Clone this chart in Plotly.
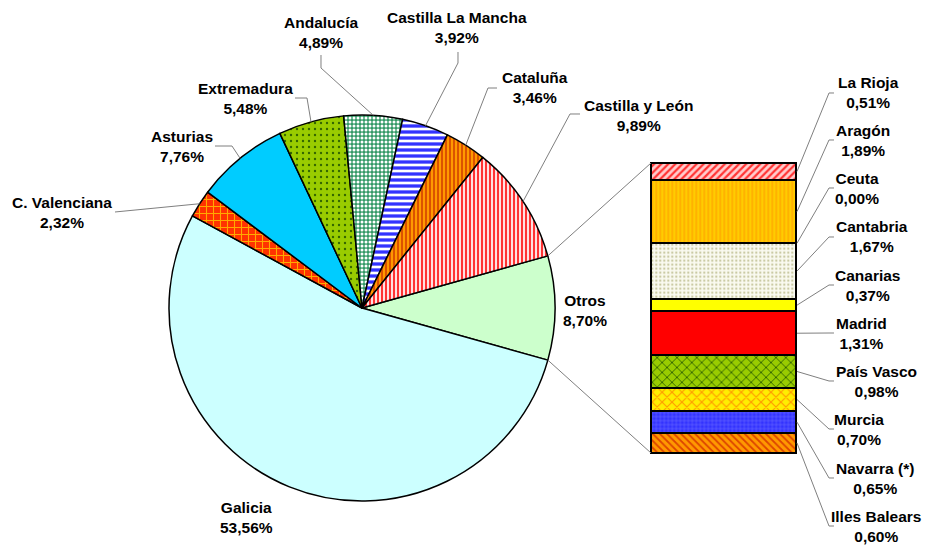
import math
import plotly.graph_objects as go

# ---- data -------------------------------------------------------------
# Main pie, listed clockwise starting with the "Otros" slice
pie_labels = ["Otros", "Galicia", "C. Valenciana", "Asturias", "Extremadura",
              "Andalucía", "Castilla La Mancha", "Cataluña", "Castilla y León"]
pie_values = [8.70, 53.56, 2.32, 7.76, 5.48, 4.89, 3.92, 3.46, 9.89]

# Breakdown of "Otros", listed top to bottom of the stacked bar
bar_labels = ["La Rioja", "Aragón", "Ceuta", "Cantabria", "Canarias", "Madrid",
              "País Vasco", "Murcia", "Navarra (*)", "Illes Balears"]
bar_values = [0.51, 1.89, 0.00, 1.67, 0.37, 1.31, 0.98, 0.70, 0.65, 0.60]

# ---- canvas -----------------------------------------------------------
W, H = 930, 545


def px(x):
    return x / W


def py(y):
    return 1 - y / H


FONT = dict(family="Liberation Sans, Arial, sans-serif", size=15.5,
            color="#000000", weight="bold")
LEADER = dict(color="#7F7F7F", width=1)

# ---- fills: (background, foreground, pattern shape, size, solidity) ---
pie_fill = {
    "Otros": ("#CCFFCC", "#CCFFCC", "", 8, 0.3),
    "Galicia": ("#CCFFFF", "#CCFFFF", "", 8, 0.3),
    "C. Valenciana": ("#FF3300", "#FFAA00", "+", 7, 0.28),
    "Asturias": ("#00CCFF", "#00CCFF", "", 8, 0.3),
    "Extremadura": ("#99CC00", "#336600", ".", 6, 0.12),
    "Andalucía": ("#339966", "#FFFFFF", ".", 4, 0.45),
    "Castilla La Mancha": ("#3333FF", "#FFFFFF", "-", 6, 0.45),
    "Cataluña": ("#FF9900", "#CC3300", "|", 4, 0.35),
    "Castilla y León": ("#FFE0E0", "#FF3333", "|", 4, 0.5),
}
bar_fill = {
    "La Rioja": ("#FFCCCC", "#FF3333", "/", 5, 0.45),
    "Aragón": ("#FFCC00", "#FF9900", "|", 4, 0.25),
    "Ceuta": ("#FFFFFF", "#FFFFFF", "", 8, 0.3),
    "Cantabria": ("#FAFAF0", "#C8C8A0", ".", 4, 0.25),
    "Canarias": ("#FFFF00", "#FFFF00", "", 8, 0.3),
    "Madrid": ("#FF0000", "#FF0000", "", 8, 0.3),
    "País Vasco": ("#99CC00", "#336600", "x", 7, 0.25),
    "Murcia": ("#FFEE00", "#FF9900", "x", 7, 0.3),
    "Navarra (*)": ("#3333FF", "#6F6FFF", "+", 4, 0.25),
    "Illes Balears": ("#FF9900", "#DD4400", "\\", 5, 0.35),
}


def fmt(v):
    return f"{v:.2f}".replace(".", ",") + "%"


fig = go.Figure()

# ---- pie --------------------------------------------------------------
CX, CY, R = 362, 308, 193           # pie centre and radius, pixels
pie_total = sum(pie_values)
# "Otros" is centred on the 3 o'clock direction
rotation = 90 - pie_values[0] / pie_total * 360 / 2

fig.add_trace(go.Pie(
    labels=pie_labels, values=pie_values, sort=False,
    direction="clockwise", rotation=rotation,
    textinfo="none", hoverinfo="label+value", showlegend=False,
    domain=dict(x=[px(CX - R), px(CX + R)], y=[py(CY + R), py(CY - R)]),
    marker=dict(
        colors=[pie_fill[k][0] for k in pie_labels],
        line=dict(color="#000000", width=1.5),
        pattern=dict(
            shape=[pie_fill[k][2] for k in pie_labels],
            bgcolor=[pie_fill[k][0] for k in pie_labels],
            fgcolor=[pie_fill[k][1] for k in pie_labels],
            size=[pie_fill[k][3] for k in pie_labels],
            solidity=[pie_fill[k][4] for k in pie_labels],
            fillmode="replace",
        ),
    ),
))

# angles (degrees clockwise from 12 o'clock) of each slice boundary
bounds = [rotation]
for v in pie_values:
    bounds.append(bounds[-1] + v / pie_total * 360)


def edge(angle_deg):
    a = math.radians(angle_deg)
    return CX + R * math.sin(a), CY - R * math.cos(a)


# ---- stacked bar ------------------------------------------------------
BX0, BX1, BY0, BY1 = 651, 796, 163, 453   # bar box, pixels
bar_total = sum(bar_values)
pad_x, pad_y = 0.06, 0.25
unit_x = (BX1 - BX0) / 1.0
unit_y = (BY1 - BY0) / bar_total
fig.update_layout(
    xaxis=dict(domain=[px(BX0 - pad_x * unit_x), px(BX1 + pad_x * unit_x)],
               range=[-0.5 - pad_x, 0.5 + pad_x], visible=False, fixedrange=True),
    yaxis=dict(domain=[py(BY1 + pad_y * unit_y), py(BY0 - pad_y * unit_y)],
               range=[-pad_y, bar_total + pad_y], visible=False, fixedrange=True),
    barmode="stack",
)

for name, val in reversed(list(zip(bar_labels, bar_values))):
    bg, fg, shp, sz, sol = bar_fill[name]
    fig.add_trace(go.Bar(
        x=[0], y=[val], width=1, name=name, showlegend=False,
        marker=dict(color=bg, line=dict(color="#000000", width=2),
                    pattern=dict(shape=shp, bgcolor=bg, fgcolor=fg,
                                 size=sz, solidity=sol, fillmode="replace")),
        hovertemplate=name + ": %{y:.2f}%<extra></extra>",
    ))

shapes = []
annotations = []

# connectors from the "Otros" slice to the bar
ox0, oy0 = edge(bounds[0])
ox1, oy1 = edge(bounds[1])
for (sx, sy), (ex, ey) in [((ox0, oy0), (BX0, BY0)), ((ox1, oy1), (BX0, BY1))]:
    shapes.append(dict(type="line", xref="paper", yref="paper",
                       x0=px(sx), y0=py(sy), x1=px(ex), y1=py(ey), line=LEADER))

# ---- pie labels -------------------------------------------------------
# label centre, then leader path points from the label toward the slice
pie_label_pos = {
    "Otros": (585, 310, []),
    "Galicia": (247, 517, []),
    "C. Valenciana": (62, 213, [(115, 212)]),
    "Asturias": (182, 146, [(215, 146), (232, 146)]),
    "Extremadura": (245, 98, [(295, 98), (307, 98)]),
    "Andalucía": (321, 33, [(321, 55), (321, 68)]),
    "Castilla La Mancha": (457, 27, [(458, 52), (458, 63)]),
    "Cataluña": (535, 87, [(497, 88), (488, 88)]),
    "Castilla y León": (638, 115, [(580, 114), (570, 114)]),
}
for i, name in enumerate(pie_labels):
    lx, ly, pts = pie_label_pos[name]
    annotations.append(dict(xref="paper", yref="paper", x=px(lx), y=py(ly),
                            text=f"{name}<br>{fmt(pie_values[i])}",
                            showarrow=False, xanchor="center", yanchor="middle",
                            align="center", font=FONT))
    if pts:
        mx, my = edge((bounds[i] + bounds[i + 1]) / 2)
        path = [pts[0]] + pts[1:] + [(mx, my)]
        d = "M " + " L ".join(f"{px(x):.5f},{py(y):.5f}" for x, y in path)
        shapes.append(dict(type="path", xref="paper", yref="paper", path=d,
                           line=LEADER))

# ---- bar labels -------------------------------------------------------
bar_label_pos = [(868, 93), (863, 140), (857, 188), (872, 237), (867, 285),
                 (861, 333), (876, 381), (859, 429), (875, 478), (876, 526)]
top = 0.0
for name, val, (lx, ly) in zip(bar_labels, bar_values, bar_label_pos):
    mid_px = BY0 + (top + val / 2) * unit_y
    top += val
    annotations.append(dict(xref="paper", yref="paper", x=px(lx), y=py(ly),
                            text=f"{name}<br>{fmt(val)}",
                            showarrow=False, xanchor="center", yanchor="middle",
                            align="center", font=FONT))
    path = [(834, ly), (829, ly), (BX1 + 1, mid_px)]
    d = "M " + " L ".join(f"{px(x):.5f},{py(y):.5f}" for x, y in path)
    shapes.append(dict(type="path", xref="paper", yref="paper", path=d,
                       line=LEADER))

fig.update_layout(
    width=W, height=H, margin=dict(l=0, r=0, t=0, b=0),
    paper_bgcolor="#FFFFFF", plot_bgcolor="rgba(0,0,0,0)",
    shapes=shapes, annotations=annotations, font=FONT,
)

fig.write_html("out.html")
